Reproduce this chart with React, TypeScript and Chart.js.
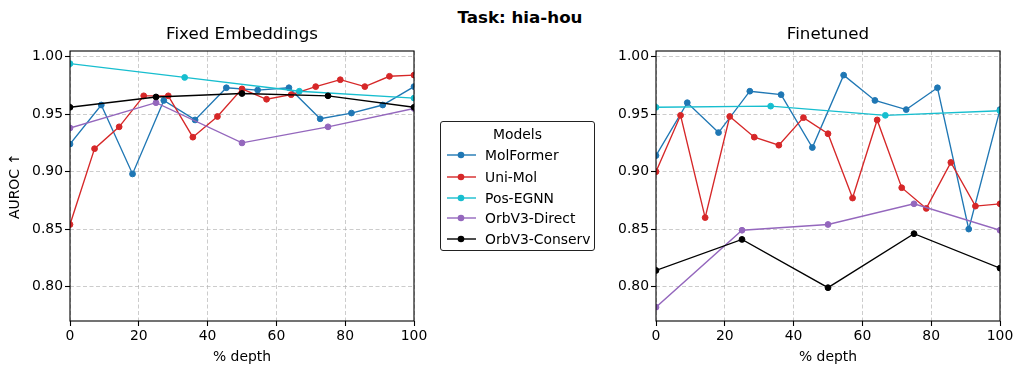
import React, { useEffect, useRef } from 'react';
import { Chart, registerables } from 'chart.js';

Chart.register(...registerables);
Chart.defaults.font.family = "'DejaVu Sans', sans-serif";

const figureTitle = 'Task: hia-hou';
const panelTitles = ['Fixed Embeddings', 'Finetuned'];
const legendTitle = 'Models';
const seriesNames = ['MolFormer', 'Uni-Mol', 'Pos-EGNN', 'OrbV3-Direct', 'OrbV3-Conserv'];
const seriesColors = ['#1f77b4', '#d62728', '#17becf', '#9467bd', '#000000'];

const xTickValues = [0, 20, 40, 60, 80, 100];
const yTickValues = [0.8, 0.85, 0.9, 0.95, 1.0];

const depth12 = [0, 9.09, 18.18, 27.27, 36.36, 45.45, 54.55, 63.64, 72.73, 81.82, 90.91, 100];
const depth15 = [0, 7.14, 14.29, 21.43, 28.57, 35.71, 42.86, 50, 57.14, 64.29, 71.43, 78.57, 85.71, 92.86, 100];
const depth4 = [0, 33.33, 66.67, 100];
const depth5 = [0, 25, 50, 75, 100];

const fixedMolFormer = [0.924, 0.958, 0.898, 0.962, 0.945, 0.973, 0.971, 0.973, 0.946, 0.951, 0.958, 0.974];
const fixedUniMol = [0.854, 0.92, 0.939, 0.966, 0.966, 0.93, 0.948, 0.972, 0.963, 0.967, 0.974, 0.98, 0.974, 0.983, 0.984];
const fixedPosEGNN = [0.994, 0.982, 0.97, 0.964];
const fixedOrbDirect = [0.938, 0.96, 0.925, 0.939, 0.955];
const fixedOrbConserv = [0.956, 0.965, 0.968, 0.966, 0.956];

const ftMolFormer = [0.914, 0.96, 0.934, 0.97, 0.967, 0.921, 0.984, 0.962, 0.954, 0.973, 0.85, 0.954];
const ftUniMol = [0.9, 0.949, 0.86, 0.948, 0.93, 0.923, 0.947, 0.933, 0.877, 0.945, 0.886, 0.868, 0.908, 0.87, 0.872];
const ftPosEGNN = [0.956, 0.957, 0.949, 0.953];
const ftOrbDirect = [0.782, 0.849, 0.854, 0.872, 0.849];
const ftOrbConserv = [0.814, 0.841, 0.799, 0.846, 0.816];

const seriesDepths = [depth12, depth15, depth4, depth5, depth5];
const fixedSeries = [fixedMolFormer, fixedUniMol, fixedPosEGNN, fixedOrbDirect, fixedOrbConserv];
const ftSeries = [ftMolFormer, ftUniMol, ftPosEGNN, ftOrbDirect, ftOrbConserv];

const FONT = 13.9;
const gridColor = 'rgba(176,176,176,0.65)';

const panelPlugin = {
  id: 'panelFrame',
  afterDraw(chart: any, _args: any, opts: any) {
    const { ctx, chartArea } = chart;
    const { left, top, right, bottom } = chartArea;
    ctx.save();
    ctx.strokeStyle = '#000';
    ctx.lineWidth = 1.1;
    ctx.setLineDash([]);
    ctx.strokeRect(left, top, right - left, bottom - top);
    if (opts && opts.title) {
      ctx.fillStyle = '#000';
      ctx.font = "16.7px 'DejaVu Sans', sans-serif";
      ctx.textAlign = 'center';
      ctx.textBaseline = 'alphabetic';
      ctx.fillText(opts.title, (left + right) / 2, top - 12);
    }
    ctx.restore();
  },
};

function makeDatasets(ys: number[][]) {
  return ys.map((vals, i) => ({
    label: seriesNames[i],
    data: vals.map((v, j) => ({ x: seriesDepths[i][j], y: v })),
    borderColor: seriesColors[i],
    backgroundColor: seriesColors[i],
    pointBackgroundColor: seriesColors[i],
    pointBorderColor: seriesColors[i],
    borderWidth: 1.35,
    pointRadius: 2.9,
    pointBorderWidth: 1,
    pointHoverRadius: 2.9,
    tension: 0,
    clip: 0,
    order: 4 - i,
  }));
}

function Panel(props: { series: number[][]; title: string; showYTitle: boolean; left: number; width: number; yWidth: number; padRight: number }) {
  const ref = useRef<HTMLCanvasElement>(null);
  useEffect(() => {
    if (!ref.current) return;
    const chart = new Chart(ref.current, {
      type: 'line',
      data: { datasets: makeDatasets(props.series) as any },
      options: {
        animation: false,
        responsive: false,
        maintainAspectRatio: false,
        events: [],
        layout: { padding: { left: 0, right: props.padRight, top: 51, bottom: 0 } },
        plugins: {
          legend: { display: false },
          tooltip: { enabled: false },
          panelFrame: { title: props.title },
        } as any,
        scales: {
          x: {
            type: 'linear',
            min: 0,
            max: 100,
            afterBuildTicks: (s: any) => {
              s.ticks = xTickValues.map((v) => ({ value: v }));
            },
            afterFit: (s: any) => {
              s.height = 53;
            },
            ticks: {
              color: '#000',
              font: { size: FONT },
              padding: 2,
              maxRotation: 0,
              autoSkip: false,
              callback: (v: any) => String(v),
            },
            grid: { color: gridColor, lineWidth: 1, tickColor: '#000', tickLength: 5, tickWidth: 1.1, tickBorderDash: [] },
            border: { display: false, dash: [4, 2.5] },
            title: { display: true, text: '% depth', color: '#000', font: { size: FONT }, padding: { top: 0, bottom: 8 } },
          },
          y: {
            type: 'linear',
            min: 0.77,
            max: 1.005,
            afterBuildTicks: (s: any) => {
              s.ticks = yTickValues.map((v) => ({ value: v }));
            },
            afterFit: (s: any) => {
              s.width = props.yWidth;
            },
            ticks: {
              color: '#000',
              font: { size: FONT },
              padding: 2,
              autoSkip: false,
              callback: (v: any) => Number(v).toFixed(2),
            },
            grid: { color: gridColor, lineWidth: 1, tickColor: '#000', tickLength: 5, tickWidth: 1.1, tickBorderDash: [] },
            border: { display: false, dash: [4, 2.5] },
            title: { display: props.showYTitle, text: 'AUROC ↑', color: '#000', font: { size: FONT }, padding: { top: 7, bottom: 0 } },
          },
        },
      },
      plugins: [panelPlugin],
    });
    return () => chart.destroy();
  }, []);
  return (
    <canvas
      ref={ref}
      width={props.width}
      height={374}
      style={{ position: 'absolute', left: props.left, top: 0, width: props.width, height: 374 }}
    />
  );
}

function Legend() {
  const rowCenters = [154.3, 175.5, 196.5, 217.3, 238.3];
  return (
    <div
      style={{
        position: 'absolute',
        left: 440,
        top: 121,
        width: 153,
        height: 128,
        border: '1.1px solid #222',
        borderRadius: 3,
        background: '#fff',
        fontFamily: "'DejaVu Sans', sans-serif",
        fontSize: FONT,
        color: '#000',
      }}
    >
      <div style={{ position: 'absolute', left: 0, width: '100%', top: 133.3 - 121 - 10, height: 20, lineHeight: '20px', textAlign: 'center' }}>
        {legendTitle}
      </div>
      {seriesNames.map((name, i) => (
        <div
          key={name}
          style={{ position: 'absolute', left: 0, top: rowCenters[i] - 121 - 10, height: 20, lineHeight: '20px', whiteSpace: 'nowrap' }}
        >
          <svg width={40} height={20} style={{ position: 'absolute', left: 0, top: 0 }}>
            <line x1={6} y1={10} x2={35} y2={10} stroke={seriesColors[i]} strokeWidth={1.4} />
            <circle cx={20} cy={10} r={3.3} fill={seriesColors[i]} />
          </svg>
          <span style={{ position: 'absolute', left: 44, top: 0 }}>{name}</span>
        </div>
      ))}
    </div>
  );
}

export default function App() {
  useEffect(() => {
    document.body.style.margin = '0';
  }, []);
  return (
    <div style={{ position: 'fixed', left: 0, top: 0, width: 1023, height: 374, background: '#fff', overflow: 'hidden' }}>
      <div
        style={{
          position: 'absolute',
          left: 0,
          width: 1040,
          top: 4,
          textAlign: 'center',
          fontFamily: "'DejaVu Sans', sans-serif",
          fontWeight: 'bold',
          fontSize: 16.7,
          lineHeight: '26px',
          color: '#000',
        }}
      >
        {figureTitle}
      </div>
      <Panel series={fixedSeries} title={panelTitles[0]} showYTitle={true} left={0} width={430} yWidth={70} padRight={16} />
      <Panel series={ftSeries} title={panelTitles[1]} showYTitle={false} left={590} width={433} yWidth={66} padRight={23} />
      <Legend />
    </div>
  );
}
